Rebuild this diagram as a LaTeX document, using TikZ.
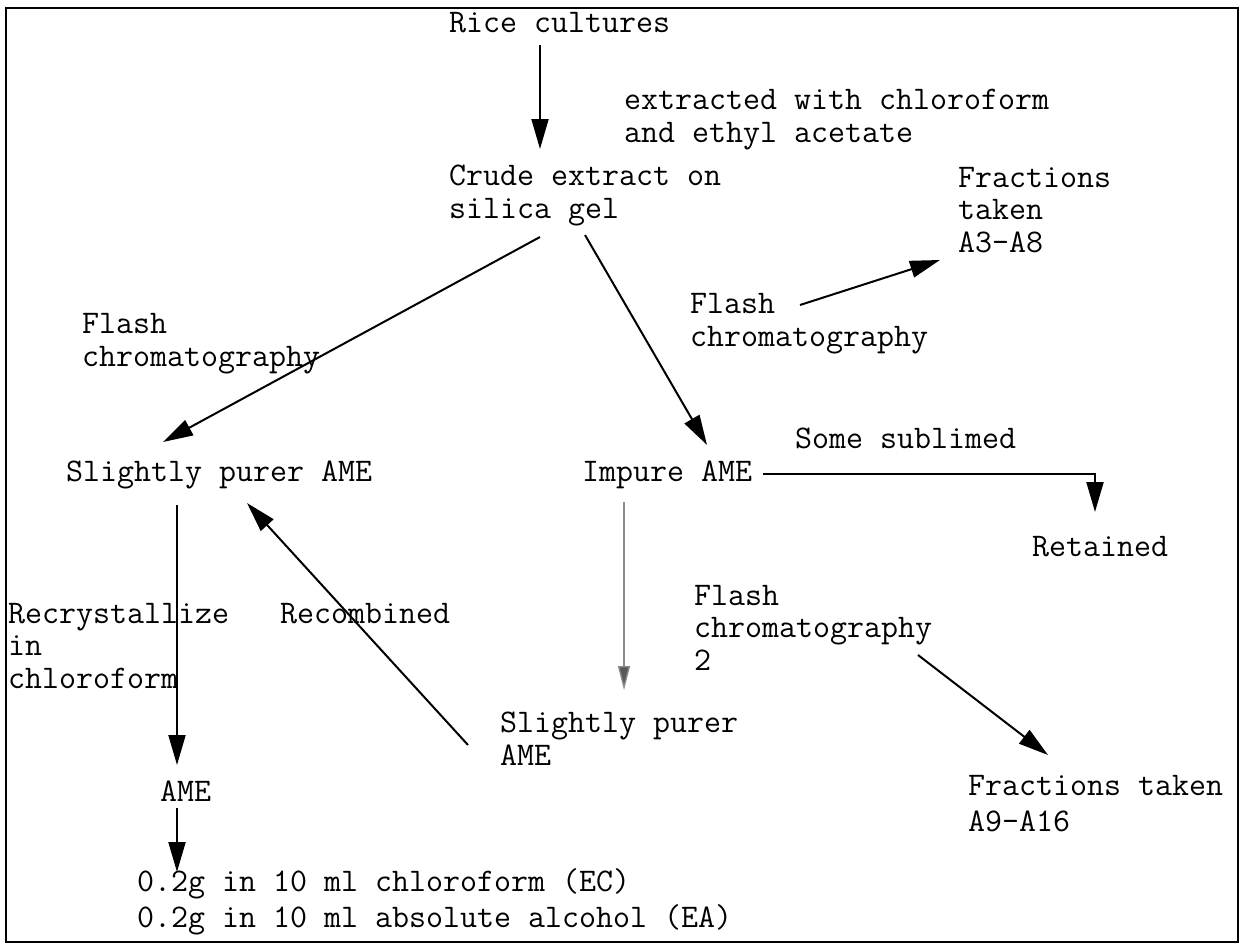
\documentclass[tikz,border=0pt]{standalone}
\usepackage{fontspec}
\usetikzlibrary{arrows.meta}
% multi-line labels sit on the baseline of their last line
\tikzset{
  lbl/.style={anchor=base west, inner sep=0pt, align=left,
    font=\ttfamily\fontsize{33}{32.5}\selectfont},
  arr/.style={line width=2pt, -{Triangle[length=30pt,width=17pt]}},
  faint/.style={line width=1.4pt, draw=black!45, -{Triangle[length=24pt,width=12pt,fill=black!65]}},
  frame/.style={line width=2pt}
}
\begin{document}
\begin{tikzpicture}[x=1pt,y=-1pt]
\useasboundingbox (0,0) rectangle (1244,945);
\draw[frame] (6,8) rectangle (1238,942);

% labels
\node[lbl] (rice)   at (449,32)  {Rice cultures};
\node[lbl] (extr)   at (624,142) {extracted with chloroform\\and ethyl acetate};
\node[lbl] (crude)  at (449,218) {Crude extract on\\silica gel};
\node[lbl] (fracA)  at (958,252) {Fractions\\taken\\A3-A8};
\node[lbl] (flashR) at (690,346) {Flash\\chromatography};
\node[lbl] (flashL) at (82,366)  {Flash\\chromatography};
\node[lbl] (spAME)  at (66,481)  {Slightly purer AME};
\node[lbl] (impure) at (582,481) {Impure AME};
\node[lbl] (subl)   at (795,448) {Some sublimed};
\node[lbl] (ret)    at (1032,556) {Retained};
\node[lbl] (flash2) at (694,670) {Flash\\chromatography\\2};
\node[lbl] (recry)  at (8,688)   {Recrystallize\\in\\chloroform};
\node[lbl] (recomb) at (280,623) {Recombined};
\node[lbl] (spMid)  at (500,765) {Slightly purer\\AME};
\node[lbl] (ame)    at (160,801) {AME};
\node[lbl] (fracB)  at (968,831) {Fractions taken\\[3pt]A9-A16};
\node[lbl] (sol)    at (137,927) {0.2g in 10 ml chloroform (EC)\\[3.5pt]0.2g in 10 ml absolute alcohol (EA)};

% connector end points
\coordinate (riceOut)   at (540,45);
\coordinate (crudeIn)   at (540,149);
\coordinate (crudeOutL) at (540,237);
\coordinate (crudeOutR) at (585,235);
\coordinate (spIn)      at (163,442);
\coordinate (impIn)     at (707,445);
\coordinate (flashROut) at (800,305);
\coordinate (fracAIn)   at (940,260);
\coordinate (impOutR)   at (763,474);
\coordinate (bend)      at (1095,474);
\coordinate (retIn)     at (1095,512);
\coordinate (impOutD)   at (624,502);
\coordinate (spMidIn)   at (624,690);
\coordinate (flash2Out) at (918,655);
\coordinate (fracBIn)   at (1048,755);
\coordinate (spMidOut)  at (468,745);
\coordinate (spBackIn)  at (247,503);
\coordinate (spOut)     at (177,505);
\coordinate (ameIn)     at (177,765);
\coordinate (ameOut)    at (177,808);
\coordinate (solIn)     at (177,872);

% connectors
\draw[arr] (riceOut) -- (crudeIn);
\draw[arr] (crudeOutL) -- (spIn);
\draw[arr] (crudeOutR) -- (impIn);
\draw[arr] (flashROut) -- (fracAIn);
\draw[arr] (impOutR) -- (bend) -- (retIn);
\draw[faint] (impOutD) -- (spMidIn);
\draw[arr] (flash2Out) -- (fracBIn);
\draw[arr] (spMidOut) -- (spBackIn);
\draw[arr] (spOut) -- (ameIn);
\draw[arr] (ameOut) -- (solIn);
\end{tikzpicture}
\end{document}
